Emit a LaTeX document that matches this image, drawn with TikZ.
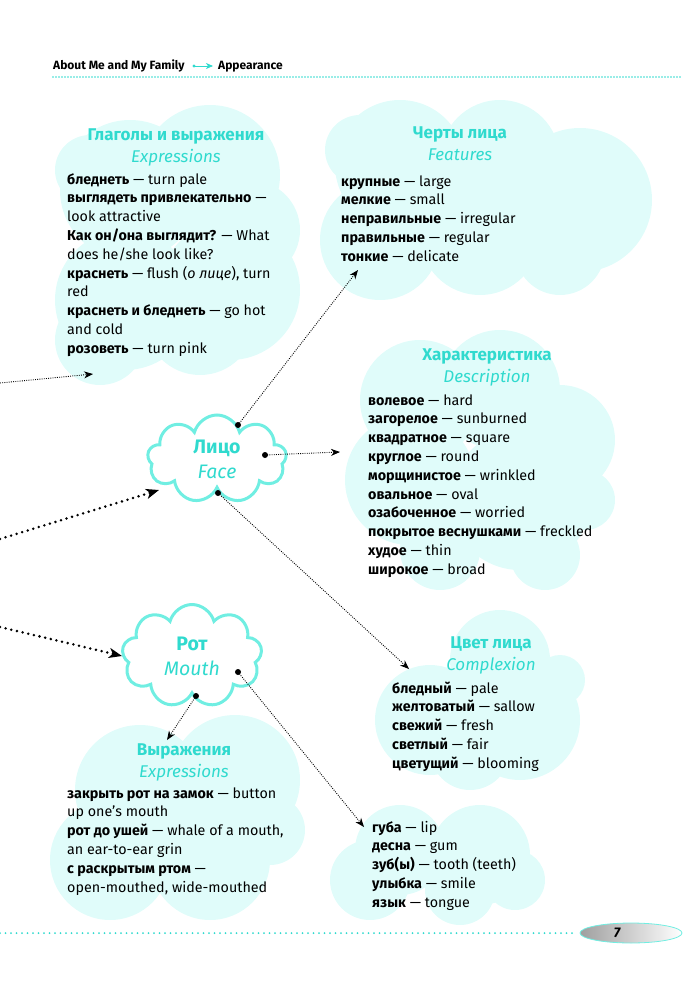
\documentclass[tikz,border=0pt]{standalone}
\usepackage{fontspec}
\setmainfont{Fira Sans}
\usetikzlibrary{arrows.meta,shapes.symbols}
\definecolor{tq}{RGB}{48,218,206}
\definecolor{cloudfill}{RGB}{224,252,250}
\definecolor{cloudline}{RGB}{112,238,226}
\begin{document}
\begin{tikzpicture}[x=1pt,y=-1pt,
  body/.style={anchor=base west, align=left, inner sep=0pt, font=\fontsize{14.3}{18.8}\selectfont},
  ttl/.style={anchor=base, align=center, inner sep=0pt, text=tq, font=\fontsize{17}{22}\selectfont},
  fine/.style={line width=0.9pt, dash pattern=on 0.9pt off 1.3pt, -{Stealth[length=9pt,width=7pt,inset=2.8pt]}},
  bold dots/.style={line width=2.8pt, line cap=round, dash pattern=on 0pt off 5.8pt, -{Stealth[length=13pt,width=10pt,inset=3.5pt]}},
  bubble/.style={cloud, cloud puffs=9, cloud ignores aspect, draw=cloudline, line width=3pt, fill=white, inner sep=0pt, align=center, text=tq, font=\fontsize{19.5}{25}\selectfont},
  pin/.style={circle, fill=black, inner sep=0pt, minimum size=6pt},
  hdr/.style={anchor=base west, inner sep=0pt, font=\bfseries\fontsize{12}{14}\selectfont}
]
\useasboundingbox (0,0) rectangle (682,1000);

% ---------- filled clouds ----------
\begin{scope}[cloudfill]
% cloud 1: verbs and expressions
\fill (130,190) circle (70pt);
\fill (210,175) circle (70pt);
\fill (125,300) circle (70pt);
\fill (230,290) circle (70pt);
\fill (100,340) circle (45pt);
\fill (200,320) circle (55pt);
\fill (250,230) circle (50pt);
\fill (90,170) circle (35pt);
% cloud 2: features
\fill (400,165) circle (65pt);
\fill (500,160) circle (60pt);
\fill (580,200) circle (72pt);
\fill (380,240) circle (60pt);
\fill (480,235) circle (60pt);
\fill (560,250) circle (45pt);
\fill (360,150) circle (35pt);
% cloud 3: description
\fill (420,400) circle (60pt);
\fill (500,390) circle (60pt);
\fill (560,440) circle (55pt);
\fill (410,480) circle (65pt);
\fill (520,500) circle (70pt);
\fill (440,550) circle (40pt);
\fill (545,555) circle (35pt);
\fill (585,500) circle (30pt);
% cloud 4: complexion
\fill (500,660) circle (50pt);
\fill (430,720) circle (55pt);
\fill (520,720) circle (60pt);
\fill (470,750) circle (40pt);
\fill (560,680) circle (25pt);
% cloud 5: mouth words
\fill (400,850) circle (45pt);
\fill (480,855) circle (50pt);
\fill (370,880) circle (40pt);
\fill (460,890) circle (35pt);
\fill (515,880) circle (30pt);
% cloud 6: expressions (mouth)
\fill (140,790) circle (65pt);
\fill (235,780) circle (65pt);
\fill (110,860) circle (60pt);
\fill (210,860) circle (60pt);
\fill (270,830) circle (35pt);
\end{scope}

% ---------- header ----------
\node[hdr] (hdrA) at (53,70) {About Me and My Family};
\node[hdr] (hdrB) at (218,70) {Appearance};
\coordinate (hdrS) at (194,66);
\coordinate (hdrE) at (213,66);
\fill[tq] (hdrS) circle (1.6pt);
\draw[tq, line width=0.8pt, -{Stealth[length=7pt,width=6pt,inset=2pt]}] (hdrS) -- (hdrE);
\draw[tq, line width=1.6pt, line cap=round, dash pattern=on 0pt off 3pt] (53,77) -- (682,77);

% ---------- footer ----------
\draw[tq, line width=2pt, line cap=round, dash pattern=on 0pt off 5.5pt] (0,933) -- (576,933);
\shade[left color=gray!75, middle color=white!85!gray, right color=white, draw=cloudline, line width=0.8pt]
  (631,933) ellipse (51pt and 10pt);
\node[inner sep=0pt, font=\bfseries\itshape\fontsize{14}{16}\selectfont] (pg) at (617,933) {7};

% ---------- texts in filled clouds (base = last line) ----------
\node[ttl] (t1) at (176,163) {\bfseries Глаголы и выражения\\\itshape Expressions};
\node[body] (b1) at (67,353.2) {\textbf{бледнеть} — turn pale\\
\textbf{выглядеть привлекательно} —\\
look attractive\\
\textbf{Как он/она выглядит?} — What\\
does he/she look like?\\
\textbf{краснеть} — flush (\textit{о лице}), turn\\
red\\
\textbf{краснеть и бледнеть} — go hot\\
and cold\\
\textbf{розоветь} — turn pink};

\node[ttl] (t2) at (460,161) {\bfseries Черты лица\\\itshape Features};
\node[body] (b2) at (341,261.2) {\textbf{крупные} — large\\
\textbf{мелкие} — small\\
\textbf{неправильные} — irregular\\
\textbf{правильные} — regular\\
\textbf{тонкие} — delicate};

\node[ttl] (t3) at (487,382) {\bfseries Характеристика\\\itshape Description};
\node[body] (b3) at (368,574.2) {\textbf{волевое} — hard\\
\textbf{загорелое} — sunburned\\
\textbf{квадратное} — square\\
\textbf{круглое} — round\\
\textbf{морщинистое} — wrinkled\\
\textbf{овальное} — oval\\
\textbf{озабоченное} — worried\\
\textbf{покрытое веснушками} — freckled\\
\textbf{худое} — thin\\
\textbf{широкое} — broad};

\node[ttl] (t4) at (491,670) {\bfseries Цвет лица\\\itshape Complexion};
\node[body] (b4) at (392,768.2) {\textbf{бледный} — pale\\
\textbf{желтоватый} — sallow\\
\textbf{свежий} — fresh\\
\textbf{светлый} — fair\\
\textbf{цветущий} — blooming};

\node[body] (b5) at (372,907.2) {\textbf{губа} — lip\\
\textbf{десна} — gum\\
\textbf{зуб(ы)} — tooth (teeth)\\
\textbf{улыбка} — smile\\
\textbf{язык} — tongue};

\node[ttl] (t6) at (184,777) {\bfseries Выражения\\\itshape Expressions};
\node[body] (b6) at (67,892) {\textbf{закрыть рот на замок} — button\\
up one's mouth\\
\textbf{рот до ушей} — whale of a mouth,\\
an ear-to-ear grin\\
\textbf{с раскрытым ртом} —\\
open-mouthed, wide-mouthed};

% ---------- outline clouds ----------
\node[bubble, minimum width=139pt, minimum height=88pt] (face) at (217,459) {\bfseries Лицо\\\itshape Face};
\node[bubble, minimum width=140pt, minimum height=103pt] (mouth) at (192,656) {\bfseries Рот\\\itshape Mouth};

% ---------- pins ----------
\node[pin] (fA) at (238,425) {};
\node[pin] (fB) at (265,455) {};
\node[pin] (fC) at (218,493) {};
\node[pin] (mA) at (196,696) {};
\node[pin] (mB) at (238,672) {};

% ---------- connector ends ----------
\coordinate (featIn) at (358,270);
\coordinate (descIn) at (340,452);
\coordinate (complIn) at (409,669);
\coordinate (exprIn) at (167,740);
\coordinate (wordsIn) at (364,827);
\coordinate (verbsIn) at (93,374);
\coordinate (faceIn) at (159,490);
\coordinate (mouthIn) at (122,656);
\coordinate (srcA) at (0,383);
\coordinate (srcB) at (0,539);
\coordinate (srcC) at (0,627);

% ---------- connectors ----------
\draw[fine] (fA.center) -- (featIn);
\draw[fine] (fB.center) -- (descIn);
\draw[fine] (fC.center) -- (complIn);
\draw[fine] (mA.center) -- (exprIn);
\draw[fine] (mB.center) -- (wordsIn);
\draw[fine] (srcA) -- (verbsIn);
\draw[bold dots] (srcB) -- (faceIn);
\draw[bold dots] (srcC) -- (mouthIn);
\end{tikzpicture}
\end{document}
